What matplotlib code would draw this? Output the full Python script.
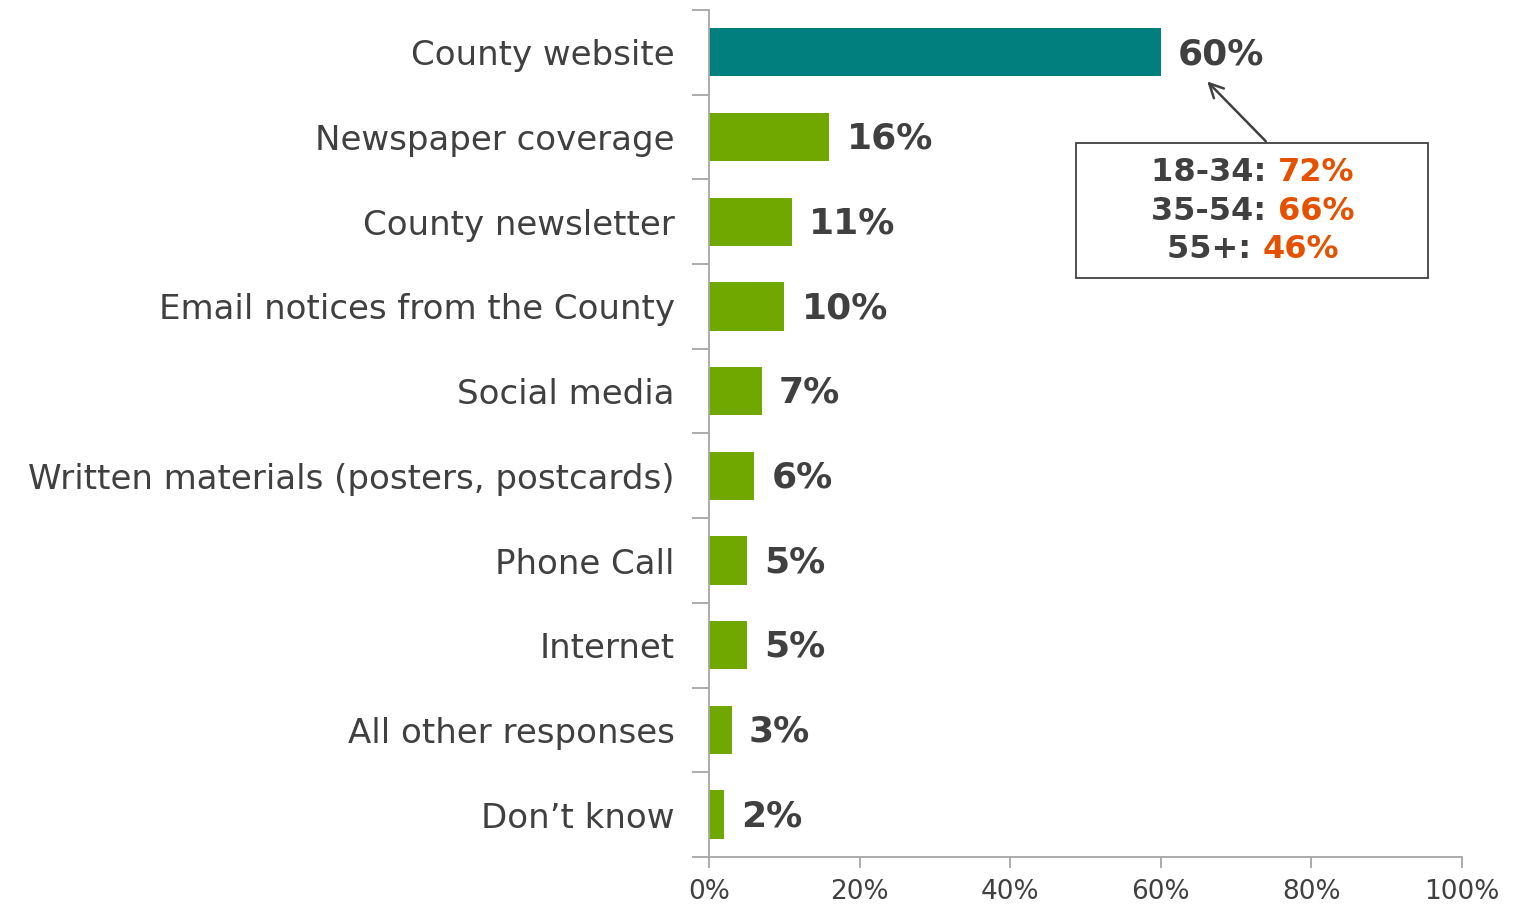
import matplotlib.pyplot as plt
from matplotlib.patches import Rectangle

categories = ["County website", "Newspaper coverage", "County newsletter",
              "Email notices from the County", "Social media",
              "Written materials (posters, postcards)", "Phone Call", "Internet",
              "All other responses", "Don\u2019t know"]
values = [60, 16, 11, 10, 7, 6, 5, 5, 3, 2]
age_groups = ["18-34:", "35-54:", "55+:"]
age_values = ["72%", "66%", "46%"]

text_col = "#404040"
teal = "#007F7F"
green = "#70A800"
orange = "#E65100"
plt.rcParams['font.family'] = ['DejaVu Sans']

fig = plt.figure(figsize=(15.14, 9.06), dpi=100)
ax = fig.add_axes([0.4683, 0.0541, 0.4974, 0.9349])

ypos = list(range(len(categories)))
colors = [teal] + [green] * (len(categories) - 1)
ax.barh(ypos, values, height=0.57, color=colors)
ax.set_ylim(len(categories) - 0.5, -0.5)
ax.set_xlim(0, 100)

for y, v in zip(ypos, values):
    ax.text(v + 2.3, y + 0.02, f"{v}%", va="center", ha="left", fontsize=26,
            fontweight="bold", color=text_col)

# category labels
ax.set_yticks(ypos)
ax.set_yticklabels(categories, fontsize=24.5, color=text_col)
ax.tick_params(axis="y", length=0, pad=24.5)
ax.set_yticks([i - 0.5 for i in range(len(categories) + 1)], minor=True)
ax.tick_params(axis="y", which="minor", length=12, color="#A6A6A6", width=1.3)

ax.set_xticks([0, 20, 40, 60, 80, 100])
ax.set_xticklabels(["0%", "20%", "40%", "60%", "80%", "100%"], fontsize=19,
                   color=text_col)
ax.tick_params(axis="x", length=8, color="#A6A6A6", width=1.3, pad=8)

for s in ["top", "right"]:
    ax.spines[s].set_visible(False)
for s in ["left", "bottom"]:
    ax.spines[s].set_color("#A6A6A6")
    ax.spines[s].set_linewidth(1.3)

# callout box
ax.add_patch(Rectangle((48.7, 1.074), 46.8, 1.596, fill=False,
                       edgecolor=text_col, linewidth=1.3, clip_on=False))
ax.annotate("", xy=(65.9, 0.32), xytext=(74.2, 1.074),
            arrowprops=dict(arrowstyle="->", color=text_col, lw=1.8,
                            mutation_scale=25))

fig.canvas.draw()
renderer = fig.canvas.get_renderer()
line_y = [1.417, 1.877, 2.326]
center_x = 72.2
for lbl, val, y in zip(age_groups, age_values, line_y):
    t1 = ax.text(0, y, lbl + " ", fontsize=23, fontweight="bold",
                 color=text_col, va="center", ha="left")
    t2 = ax.text(0, y, val, fontsize=23, fontweight="bold",
                 color=orange, va="center", ha="left")
    w1 = t1.get_window_extent(renderer).width
    w2 = t2.get_window_extent(renderer).width
    cx, cy = ax.transData.transform((center_x, y))
    x1 = ax.transData.inverted().transform((cx - (w1 + w2) / 2, cy))[0]
    x2 = ax.transData.inverted().transform((cx - (w1 + w2) / 2 + w1, cy))[0]
    t1.set_x(x1)
    t2.set_x(x2)

fig.savefig("out.png", dpi=100)
